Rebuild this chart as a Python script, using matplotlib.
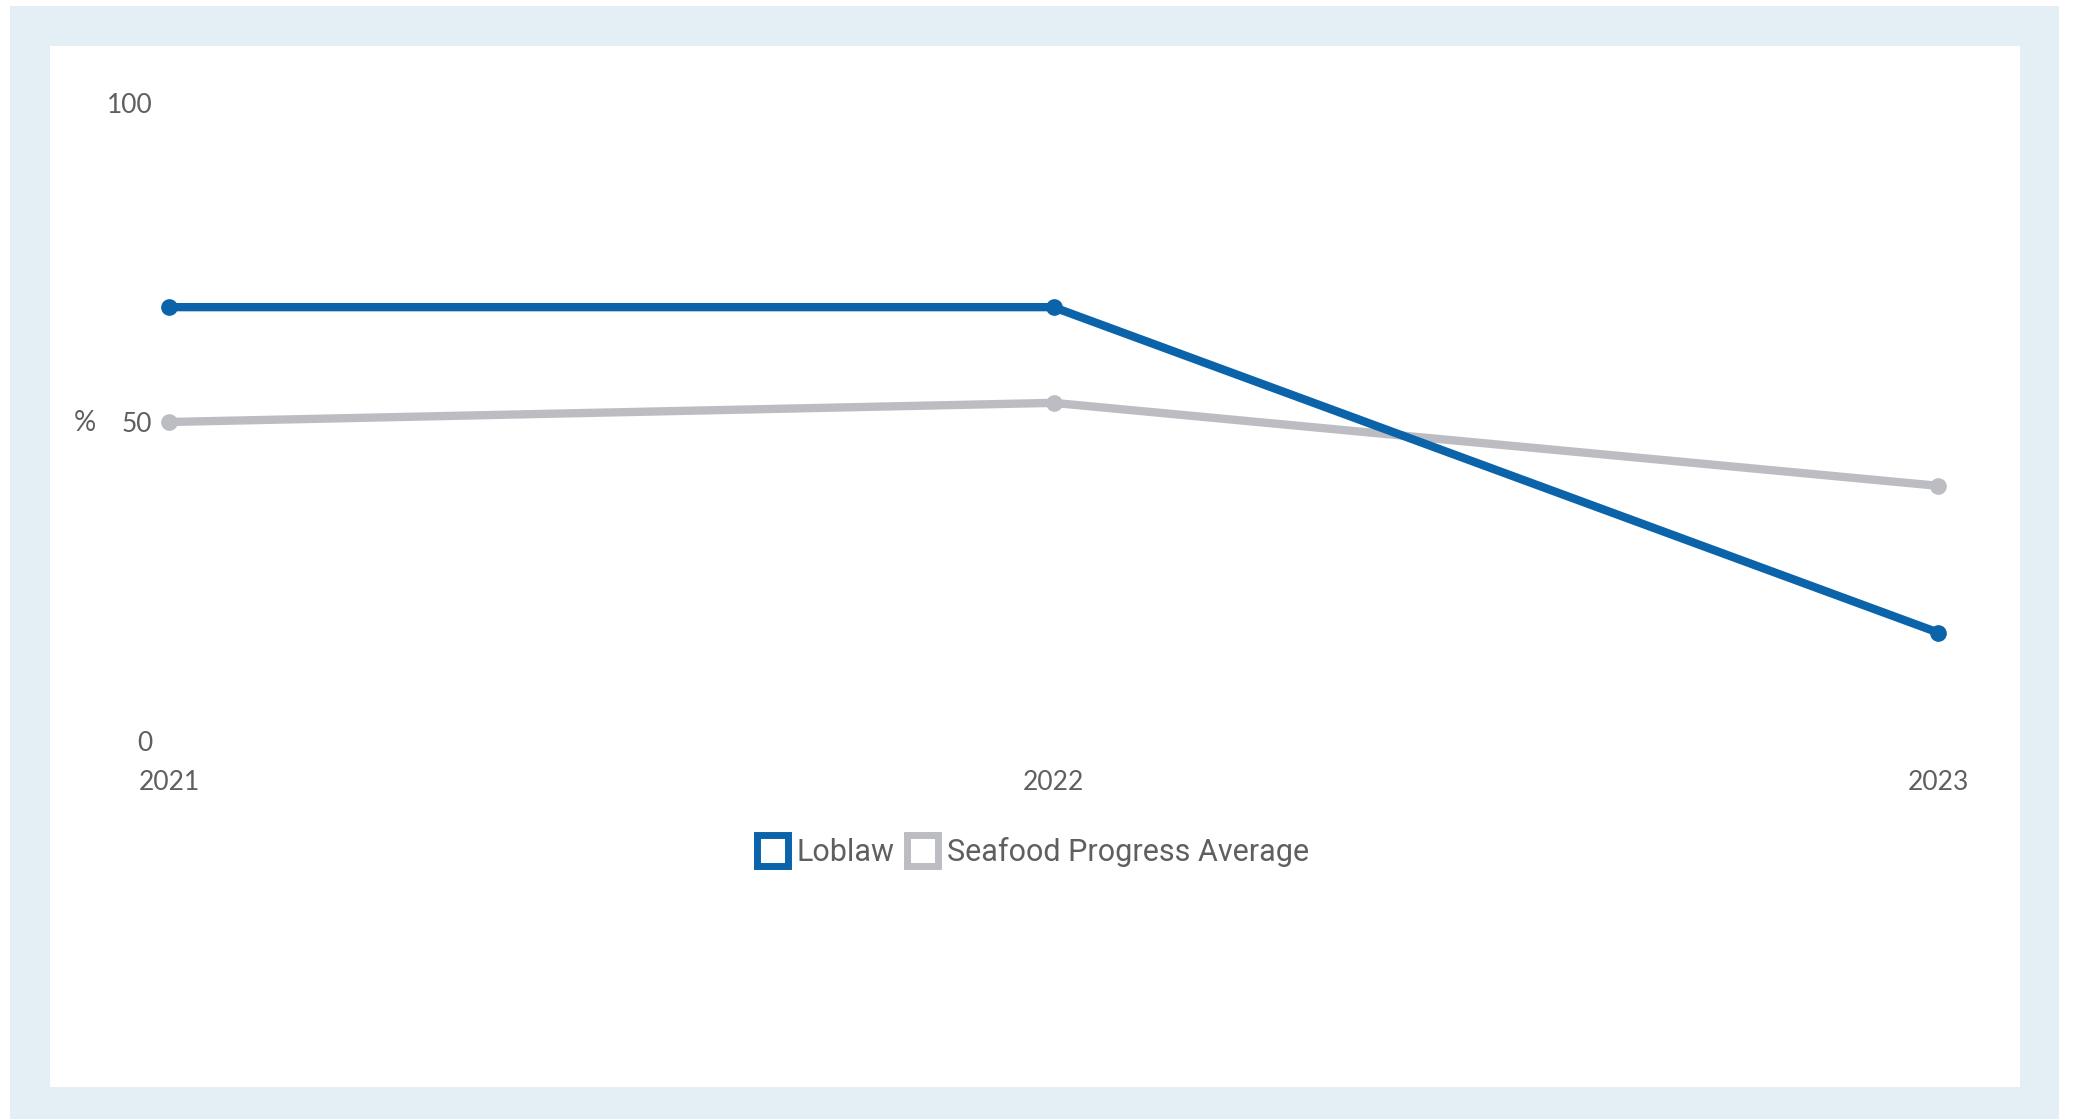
import matplotlib.pyplot as plt
from matplotlib.patches import Rectangle, Patch

years = [2021, 2022, 2023]
loblaw = [68, 68, 17]
seafood_avg = [50, 53, 40]
series_names = ['Loblaw', 'Seafood Progress Average']

blue = '#0b63aa'
grey = '#bcbcc3'
label_grey = '#5f5f5f'

W, H = 2074, 1119
fig = plt.figure(figsize=(W / 100, H / 100), dpi=100, facecolor='white')

# light blue frame with white card on top
fig.patches.append(Rectangle((10 / W, 0), 2049 / W, (H - 6) / H,
                             transform=fig.transFigure, facecolor='#e4eef5',
                             edgecolor='none', zorder=-2))
fig.patches.append(Rectangle((50 / W, (H - 1087) / H), 1970 / W, (1087 - 46) / H,
                             transform=fig.transFigure, facecolor='white',
                             edgecolor='none', zorder=-1))

ax = fig.add_axes([169 / W, (H - 741) / H, (1938 - 169) / W, (741 - 103) / H])
ax.set_facecolor('none')

ax.plot(years, seafood_avg, color=grey, lw=6, marker='o', ms=11,
        solid_capstyle='round', clip_on=False, zorder=2)
ax.plot(years, loblaw, color=blue, lw=6, marker='o', ms=11,
        solid_capstyle='round', clip_on=False, zorder=3)

ax.set_xlim(2021, 2023)
ax.set_ylim(0, 100)
ax.set_xticks(years)
ax.set_yticks([0, 50, 100])
for s in ax.spines.values():
    s.set_visible(False)
ax.tick_params(length=0, labelsize=19, labelcolor=label_grey)
ax.tick_params(axis='x', pad=21)
ax.tick_params(axis='y', pad=12)
for lab in ax.get_xticklabels() + ax.get_yticklabels():
    lab.set_family('Lato')

fig.text(85 / W, (H - 423) / H, '%', ha='center', va='center', fontsize=20,
         color=label_grey, family='Lato')

handles = [Patch(facecolor='white', edgecolor=blue, linewidth=5),
           Patch(facecolor='white', edgecolor=grey, linewidth=5)]
fig.legend(handles, series_names, loc='center', bbox_to_anchor=(1033 / W, (H - 851) / H),
           ncol=2, frameon=False, handlelength=1.0, handleheight=1.15,
           handletextpad=0.3, columnspacing=0.4,
           prop={'family': 'Roboto', 'size': 22},
           labelcolor=label_grey)

fig.savefig('out.png', dpi=100, facecolor='white')
